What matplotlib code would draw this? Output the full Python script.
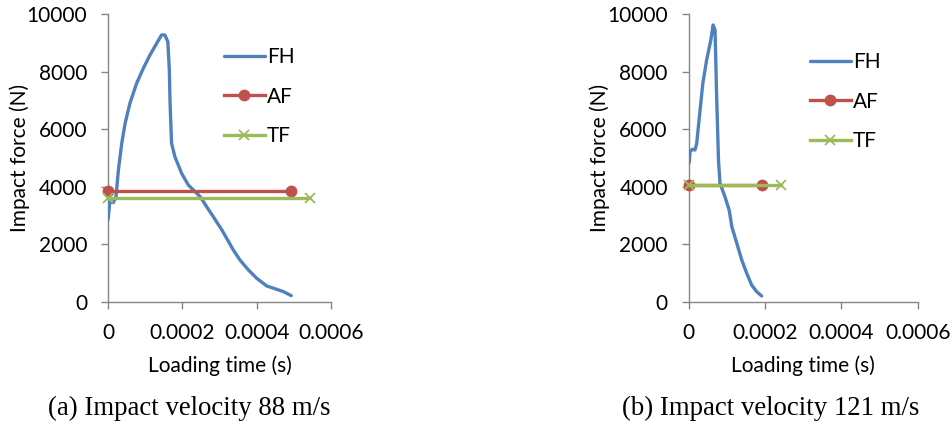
import matplotlib
matplotlib.use("Agg")
import matplotlib.pyplot as plt

# panel (a): impact velocity 88 m/s
t_a = [0, 0.27e-5, 0.5e-5, 1.43e-5, 2.15e-5, 2.8e-5, 3.7e-5, 4.6e-5, 5.9e-5, 7.7e-5,
       9.5e-5, 11.3e-5, 13.1e-5, 14.4e-5, 15.3e-5, 16.1e-5, 16.5e-5, 16.7e-5, 17.1e-5,
       18.0e-5, 19.8e-5, 21.6e-5, 24.8e-5, 26.8e-5, 28.3e-5, 30.6e-5, 31.9e-5, 33.7e-5,
       35.5e-5, 37.8e-5, 40.0e-5, 42.7e-5, 45.4e-5, 47.2e-5, 49.3e-5]
fh_a = [2850, 3190, 3476, 3441, 3650, 4578, 5506, 6200, 6896, 7590,
        8112, 8575, 8981, 9270, 9270, 9037, 8054, 6896, 5506,
        5040, 4463, 4056, 3650, 3250, 2960, 2500, 2210, 1800,
        1450, 1100, 815, 547, 430, 350, 210]
af_t_a = [0, 0.000492]
af_a = [3850, 3850]
tf_t_a = [0, 0.000543]
tf_a = [3620, 3620]

# panel (b): impact velocity 121 m/s
t_b = [0, 0.16e-5, 0.35e-5, 0.94e-5, 1.65e-5, 2.1e-5, 2.8e-5, 3.7e-5, 4.7e-5, 5.8e-5,
       6.4e-5, 6.9e-5, 7.3e-5, 7.8e-5, 8.2e-5, 9.5e-5, 10.6e-5, 11.3e-5, 12.6e-5,
       13.9e-5, 15.2e-5, 16.5e-5, 17.8e-5, 19.1e-5]
fh_b = [4800, 4866, 5214, 5297, 5273, 5506, 6430, 7590, 8400, 9096,
        9618, 9444, 7243, 4925, 4115, 3650, 3187, 2610, 2030,
        1450, 990, 580, 350, 200]
af_t_b = [0, 0.000191]
af_b = [4050, 4050]
tf_t_b = [0, 0.000242]
tf_b = [4050, 4050]

xticks = [0, 0.0002, 0.0004, 0.0006]
xtick_labels = ["0", "0.0002", "0.0004", "0.0006"]
yticks = [0, 2000, 4000, 6000, 8000, 10000]
captions = ["(a) Impact velocity 88 m/s", "(b) Impact velocity 121 m/s"]

blue = "#4F81BD"
red = "#C0504D"
green = "#9BBB59"
grey = "#868686"
sans = "Lato"
fs = 15

W, H = 952, 430
fig = plt.figure(figsize=(W / 100, H / 100), dpi=100)

def px_axes(x0, x1, ytop, ybot):
    return fig.add_axes([x0 / W, 1 - ybot / H, (x1 - x0) / W, (ybot - ytop) / H])

panels = [
    (px_axes(108, 331, 14, 301.7), t_a, fh_a, af_t_a, af_a, tf_t_a, tf_a,
     189, -0.35, (0.52, 0.885)),
    (px_axes(688.7, 917.7, 14, 301.7), t_b, fh_b, af_t_b, af_b, tf_t_b, tf_b,
     771, -0.345, (0.53, 0.868)),
]

for i, (ax, t, fh, at, af, tt, tf, cap_x, ylab_x, leg_pos) in enumerate(panels):
    ax.plot(t, fh, color=blue, lw=2.4, label="FH", solid_capstyle="round",
            solid_joinstyle="round", zorder=3)
    ax.plot(at, af, color=red, lw=2.4, marker="o", ms=7.5, label="AF", zorder=4,
            clip_on=False)
    ax.plot(tt, tf, color=green, lw=2.4, marker="x", ms=7, mew=1.3, label="TF", zorder=5,
            clip_on=False)

    ax.set_xlim(0, 0.0006)
    ax.set_ylim(0, 10000)
    ax.set_xticks(xticks)
    ax.set_xticklabels(xtick_labels)
    ax.set_yticks(yticks)
    for s in ["top", "right"]:
        ax.spines[s].set_visible(False)
    for s in ["left", "bottom"]:
        ax.spines[s].set_color(grey)
        ax.spines[s].set_linewidth(1.0)
    ax.tick_params(direction="out", length=5, width=1.0, color=grey,
                   labelsize=fs, pad=10)
    for lab in ax.get_xticklabels() + ax.get_yticklabels():
        lab.set_fontfamily(sans)
    ax.patch.set_alpha(0)

    ax.set_ylabel("Impact force (N)", fontsize=fs, fontfamily=sans)
    ax.yaxis.set_label_coords(ylab_x, 0.5)
    ax.set_xlabel("Loading time (s)", fontsize=fs, fontfamily=sans)
    ax.xaxis.set_label_coords(0.5, -0.185)

    leg = ax.legend(loc="upper left", bbox_to_anchor=leg_pos,
                    frameon=False, fontsize=fs, handlelength=1.95, handletextpad=0.1,
                    labelspacing=0.94, borderpad=0, borderaxespad=0, numpoints=1)
    for txt in leg.get_texts():
        txt.set_fontfamily(sans)

    fig.text(cap_x / W, 1 - 408 / H, captions[i], ha="center", va="center",
             fontsize=19.3, fontfamily="Liberation Serif")

fig.savefig("out.png", dpi=100)
